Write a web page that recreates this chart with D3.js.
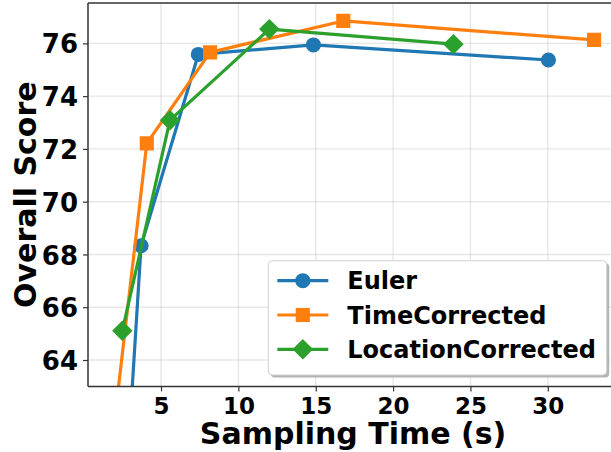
<!DOCTYPE html>
<html>
<head>
<meta charset="utf-8">
<script src="https://cdn.jsdelivr.net/npm/d3@7"></script>
<style>
  html, body { margin: 0; padding: 0; background: #fff; }
  svg { display: block; }
  text { font-family: "DejaVu Sans", sans-serif; font-weight: bold; fill: #000; }
</style>
</head>
<body>
<svg id="chart" width="611" height="452"></svg>
<script>
// ---- data ----
const seriesNames = ["Euler", "TimeCorrected", "LocationCorrected"];
const seriesColors = ["#1f77b4", "#ff7f0e", "#2ca02c"];
const seriesMarkers = ["circle", "square", "diamond"];
const eulerX = [2.6, 3.71, 7.41, 14.85, 30.04];
const eulerY = [57.9, 68.33, 75.58, 75.94, 75.37];
const timeX = [1.84, 4.08, 8.17, 16.78, 32.99];
const timeY = [60.9, 72.21, 75.66, 76.85, 76.13];
const locX = [2.50, 5.58, 12.0, 23.9];
const locY = [65.11, 73.09, 76.54, 75.97];
const xTicks = [5, 10, 15, 20, 25, 30];
const yTicks = [64, 66, 68, 70, 72, 74, 76];
const xDomain = [0.28, 34.55];
const yDomain = [63, 77.53];
const xLabel = "Sampling Time (s)";
const yLabel = "Overall Score";

const seriesX = [eulerX, timeX, locX];
const seriesY = [eulerY, timeY, locY];

// ---- layout ----
const svg = d3.select("#chart");
const L = 88, T = 3, R = 618.2, B = 386.4;
const x = d3.scaleLinear().domain(xDomain).range([L, R]);
const y = d3.scaleLinear().domain(yDomain).range([B, T]);

svg.append("defs").append("clipPath").attr("id", "clip")
  .append("rect").attr("x", L).attr("y", T).attr("width", R - L).attr("height", B - T);

// grid
const grid = svg.append("g");
grid.selectAll(".gx").data(xTicks).enter().append("line")
  .attr("x1", d => x(d)).attr("x2", d => x(d)).attr("y1", T).attr("y2", B)
  .attr("stroke", "#b0b0b0").attr("stroke-opacity", 0.3).attr("stroke-width", 1.4);
grid.selectAll(".gy").data(yTicks).enter().append("line")
  .attr("y1", d => y(d)).attr("y2", d => y(d)).attr("x1", L).attr("x2", R)
  .attr("stroke", "#b0b0b0").attr("stroke-opacity", 0.3).attr("stroke-width", 1.4);

// series
const markerSize = { circle: 180, square: 200, diamond: 210 };
function symbolFor(m) {
  if (m === "circle") return d3.symbol().type(d3.symbolCircle).size(markerSize.circle)();
  if (m === "square") return d3.symbol().type(d3.symbolSquare).size(markerSize.square)();
  return d3.symbol().type(d3.symbolSquare).size(markerSize.diamond)();
}
const plot = svg.append("g").attr("clip-path", "url(#clip)");
const line = d3.line().x(d => x(d[0])).y(d => y(d[1]));
seriesNames.forEach((name, i) => {
  const pts = seriesX[i].map((v, j) => [v, seriesY[i][j]]);
  const g = plot.append("g");
  g.append("path").datum(pts).attr("d", line)
    .attr("fill", "none").attr("stroke", seriesColors[i]).attr("stroke-width", 3.2)
    .attr("stroke-linejoin", "round");
  g.selectAll("path.m").data(pts).enter().append("path").attr("class", "m")
    .attr("d", symbolFor(seriesMarkers[i]))
    .attr("transform", d => `translate(${x(d[0])},${y(d[1])})` + (seriesMarkers[i] === "diamond" ? " rotate(45)" : ""))
    .attr("fill", seriesColors[i]);
});

// axes
const xAxis = d3.axisBottom(x).tickValues(xTicks).tickSize(5).tickPadding(6).tickFormat(d3.format("d"));
const yAxis = d3.axisLeft(y).tickValues(yTicks).tickSize(5).tickPadding(5).tickFormat(d3.format("d"));
const gx = svg.append("g").attr("transform", `translate(0,${B})`).call(xAxis);
const gy = svg.append("g").attr("transform", `translate(${L},0)`).call(yAxis);
[gx, gy].forEach(g => {
  g.select(".domain").remove();
  g.selectAll(".tick line").attr("stroke", "#333").attr("stroke-width", 1.2);
  g.selectAll("text").attr("fill", "#000").style("font-family", "'DejaVu Sans', sans-serif").style("font-weight", "bold");
});
gx.selectAll("text").style("font-size", "23px");
gy.selectAll("text").style("font-size", "26px").attr("dy", "0.37em");

// spines
const sp = svg.append("g").attr("stroke", "#333").attr("stroke-width", 1.5).attr("fill", "none");
sp.append("line").attr("x1", L).attr("x2", L).attr("y1", T).attr("y2", B);
sp.append("line").attr("x1", L).attr("x2", R).attr("y1", B).attr("y2", B);
sp.append("line").attr("x1", L).attr("x2", R).attr("y1", T).attr("y2", T);
sp.append("line").attr("x1", R).attr("x2", R).attr("y1", T).attr("y2", B);

// axis labels
svg.append("text").attr("x", (L + R) / 2).attr("y", 444).attr("text-anchor", "middle")
  .style("font-size", "30px").text(xLabel);
svg.append("text").attr("transform", `translate(36,${(T + B) / 2}) rotate(-90)`).attr("text-anchor", "middle")
  .style("font-size", "30px").text(yLabel);

// legend
const lg = svg.append("g");
const lx = 268.3, ly = 260.7, lw = 338.4, lh = 114.3;
lg.append("rect").attr("x", lx + 2.5).attr("y", ly + 2.5).attr("width", lw).attr("height", lh)
  .attr("rx", 4).attr("fill", "#b3b3b3");
lg.append("rect").attr("x", lx).attr("y", ly).attr("width", lw).attr("height", lh)
  .attr("rx", 4).attr("fill", "#fff").attr("stroke", "#d0d0d0").attr("stroke-width", 1);
const rowY = [280.7, 315, 349.3];
seriesNames.forEach((name, i) => {
  const yy = rowY[i];
  lg.append("line").attr("x1", 277.3).attr("x2", 328.3).attr("y1", yy).attr("y2", yy)
    .attr("stroke", seriesColors[i]).attr("stroke-width", 3.2);
  lg.append("path").attr("d", symbolFor(seriesMarkers[i]))
    .attr("transform", `translate(302.8,${yy})` + (seriesMarkers[i] === "diamond" ? " rotate(45)" : ""))
    .attr("fill", seriesColors[i]);
  lg.append("text").attr("x", 347.3).attr("y", yy).attr("dy", "0.36em")
    .style("font-size", "24px").text(name);
});
</script>
</body>
</html>
